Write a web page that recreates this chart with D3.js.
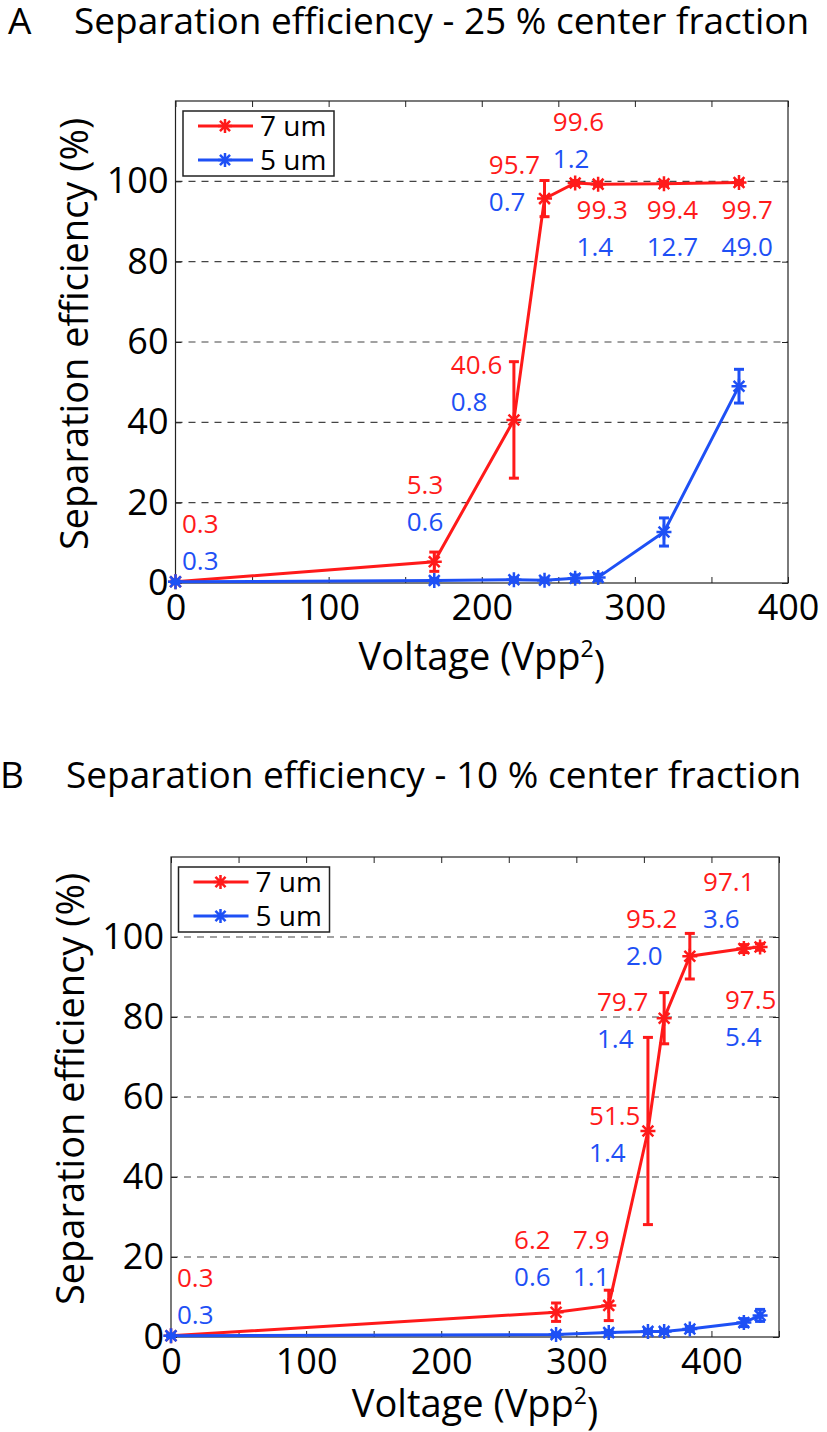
<!DOCTYPE html>
<html>
<head>
<meta charset="utf-8">
<script src="https://cdn.jsdelivr.net/npm/d3@7"></script>
<style>
  body { margin: 0; background: #fff; }
  text { font-family: "Open Sans", sans-serif; fill: #000; }
</style>
</head>
<body>
<div id="chart"></div>
<script>
// Panel A: 25 % center fraction
const voltageA = [0, 169, 221, 241, 261, 276, 319, 368];
const effA7 = [0.3, 5.3, 40.6, 95.7, 99.6, 99.3, 99.4, 99.7];
const errA7 = [0.2, 2.4, 14.5, 4.5, 0.6, 0.5, 0.6, 0.5];
const effA5 = [0.3, 0.6, 0.8, 0.7, 1.2, 1.4, 12.7, 49.0];
const errA5 = [0.2, 0.5, 0.5, 0.5, 0.8, 0.8, 3.5, 4.2];
// where the value labels sit (voltage, %), red label; blue one goes right under it
const labelXA = [4.2, 151, 179.8, 204.6, 246.4, 261.9, 307.7, 356.6];
const labelYA = [14.9, 24.4, 54.3, 104.1, 114.8, 92.9, 92.9, 92.9];

// Panel B: 10 % center fraction
const voltageB = [0, 285, 324, 353, 365, 384, 424, 436];
const effB7 = [0.3, 6.2, 7.9, 51.5, 79.7, 95.2, 97.1, 97.5];
const errB7 = [0.2, 2.3, 3.8, 23.4, 6.4, 5.7, 1.0, 0.8];
const effB5 = [0.3, 0.6, 1.1, 1.4, 1.4, 2.0, 3.6, 5.4];
const errB5 = [0.2, 0.4, 0.5, 0.5, 0.5, 0.6, 1.0, 1.5];
const labelXB = [4.4, 253.9, 297.5, 309.4, 315.3, 336.8, 393.8, 410];
const labelYB = [14.75, 24.25, 24.25, 55.25, 83.75, 104.5, 113.75, 84.25];

const seriesNames = ["7 um", "5 um"];
const yTicks = [0, 20, 40, 60, 80, 100];

const RED = "#ff1a1a";
const BLUE = "#1e50f5";

const svg = d3
  .select("#chart")
  .append("svg")
  .attr("width", 827)
  .attr("height", 1432);

const panels = [
  {
    letter: "A",
    title: "Separation efficiency - 25 % center fraction",
    titleY: 34,
    letterX: 8,
    titleX: 74,
    box: { left: 175.5, right: 788, top: 101, bottom: 583 },
    xMax: 400,
    voltage: voltageA,
    series: [
      { values: effA7, errors: errA7, color: RED },
      { values: effA5, errors: errA5, color: BLUE },
    ],
    labelX: labelXA,
    labelY: labelYA,
    yLabelX: 88,
    xLabelDy: 87,
  },
  {
    letter: "B",
    title: "Separation efficiency - 10 % center fraction",
    titleY: 788,
    letterX: 0,
    titleX: 66,
    box: { left: 171, right: 779, top: 857, bottom: 1337 },
    xMax: 450,
    voltage: voltageB,
    series: [
      { values: effB7, errors: errB7, color: RED },
      { values: effB5, errors: errB5, color: BLUE },
    ],
    labelX: labelXB,
    labelY: labelYB,
    yLabelX: 84,
    xLabelDy: 80,
  },
];

// MATLAB style '*' marker
function starPath(r) {
  const d = r * 0.72;
  return `M0,${-r}V${r}M${-r},0H${r}M${-d},${-d}L${d},${d}M${-d},${d}L${d},${-d}`;
}

function drawPanel(p) {
  const x = d3.scaleLinear().domain([0, p.xMax]).range([p.box.left, p.box.right]);
  const y = d3.scaleLinear().domain([0, 120]).range([p.box.bottom, p.box.top]);
  const g = svg.append("g");

  // Titles
  g.append("text")
    .attr("x", p.letterX)
    .attr("y", p.titleY)
    .style("font-size", "37px")
    .text(p.letter);
  g.append("text")
    .attr("x", p.titleX)
    .attr("y", p.titleY)
    .style("font-size", "37px")
    .text(p.title);

  // Dashed grid
  g.append("g")
    .selectAll("line")
    .data(yTicks.filter((d) => d > 0))
    .join("line")
    .attr("x1", p.box.left)
    .attr("x2", p.box.right)
    .attr("y1", (d) => y(d))
    .attr("y2", (d) => y(d))
    .attr("stroke", "#444")
    .attr("stroke-width", 1.2)
    .attr("stroke-dasharray", "7,6");

  // Axes, ticks pointing inward
  const xTicks = d3.range(0, p.xMax + 1, 50);
  const xBottom = g
    .append("g")
    .attr("transform", `translate(0,${p.box.bottom})`)
    .call(
      d3.axisBottom(x)
        .tickValues(xTicks)
        .tickFormat((d) => (d % 100 === 0 ? d : ""))
        .tickSize(-6)
        .tickPadding(11)
    );
  const xTop = g
    .append("g")
    .attr("transform", `translate(0,${p.box.top})`)
    .call(d3.axisTop(x).tickValues(xTicks).tickFormat("").tickSize(-6));
  const yLeft = g
    .append("g")
    .attr("transform", `translate(${p.box.left},0)`)
    .call(d3.axisLeft(y).tickValues(yTicks).tickSize(-6).tickPadding(7));
  const yRight = g
    .append("g")
    .attr("transform", `translate(${p.box.right},0)`)
    .call(d3.axisRight(y).tickValues(yTicks).tickFormat("").tickSize(-6));

  [xBottom, xTop, yLeft, yRight].forEach((a) => {
    a.select(".domain").remove();
    a.selectAll(".tick line").attr("stroke", "#222");
    a.selectAll("text")
      .style("font-size", "36px")
      .style("font-family", '"Open Sans", sans-serif')
      .attr("fill", "#000");
  });

  g.append("rect")
    .attr("x", p.box.left)
    .attr("y", p.box.top)
    .attr("width", p.box.right - p.box.left)
    .attr("height", p.box.bottom - p.box.top)
    .attr("fill", "none")
    .attr("stroke", "#222")
    .attr("stroke-width", 1.2);

  // Axis labels
  const xLabel = g
    .append("text")
    .attr("x", (p.box.left + p.box.right) / 2)
    .attr("y", p.box.bottom + p.xLabelDy)
    .attr("text-anchor", "middle")
    .style("font-size", "38px");
  xLabel.append("tspan").text("Voltage (Vpp");
  xLabel.append("tspan").attr("dy", "-0.55em").style("font-size", "23px").text("2");
  xLabel.append("tspan").attr("dy", "0.55em").text(")");

  g.append("text")
    .attr("transform", `translate(${p.yLabelX},${(p.box.top + p.box.bottom) / 2 - 8}) rotate(-90)`)
    .attr("text-anchor", "middle")
    .style("font-size", "38px")
    .text("Separation efficiency (%)");

  // Series: line, error bars, markers
  const line = d3
    .line()
    .x((d, i) => x(p.voltage[i]))
    .y((d) => y(d));

  p.series.forEach((s) => {
    const sg = g.append("g");
    sg.append("path")
      .attr("d", line(s.values))
      .attr("fill", "none")
      .attr("stroke", s.color)
      .attr("stroke-width", 3);

    const bars = sg
      .selectAll(".err")
      .data(s.values)
      .join("g")
      .attr("class", "err")
      .attr("stroke", s.color)
      .attr("stroke-width", 3);
    bars.append("line")
      .attr("x1", (d, i) => x(p.voltage[i]))
      .attr("x2", (d, i) => x(p.voltage[i]))
      .attr("y1", (d, i) => y(d - s.errors[i]))
      .attr("y2", (d, i) => y(d + s.errors[i]));
    [-1, 1].forEach((sign) => {
      bars.append("line")
        .attr("x1", (d, i) => x(p.voltage[i]) - 5)
        .attr("x2", (d, i) => x(p.voltage[i]) + 5)
        .attr("y1", (d, i) => y(d + sign * s.errors[i]))
        .attr("y2", (d, i) => y(d + sign * s.errors[i]));
    });

    sg.selectAll(".mark")
      .data(s.values)
      .join("path")
      .attr("class", "mark")
      .attr("transform", (d, i) => `translate(${x(p.voltage[i])},${y(d)})`)
      .attr("d", starPath(7.5))
      .attr("fill", "none")
      .attr("stroke", s.color)
      .attr("stroke-width", 2.5);
  });

  // Value labels
  const labels = g
    .append("g")
    .selectAll("g")
    .data(p.labelX)
    .join("g")
    .attr("transform", (d, i) => `translate(${x(d)},${y(p.labelY[i])})`);
  labels.append("text")
    .attr("dy", "0.36em")
    .style("font-size", "26px")
    .style("fill", RED)
    .text((d, i) => p.series[0].values[i].toFixed(1));
  labels.append("text")
    .attr("y", 37)
    .attr("dy", "0.36em")
    .style("font-size", "26px")
    .style("fill", BLUE)
    .text((d, i) => p.series[1].values[i].toFixed(1));

  // Legend
  const lx = p.box.left + 7.5;
  const ly = p.box.top + 10;
  const legend = g.append("g").attr("transform", `translate(${lx},${ly})`);
  legend.append("rect")
    .attr("width", 151)
    .attr("height", 65)
    .attr("fill", "#fff")
    .attr("stroke", "#222")
    .attr("stroke-width", 1.5);
  const items = legend
    .selectAll(".item")
    .data(p.series)
    .join("g")
    .attr("class", "item")
    .attr("transform", (d, i) => `translate(0,${15 + i * 34})`);
  items.append("line")
    .attr("x1", 15)
    .attr("x2", 70)
    .attr("stroke", (d) => d.color)
    .attr("stroke-width", 3);
  items.append("path")
    .attr("transform", "translate(42,0)")
    .attr("d", starPath(7))
    .attr("fill", "none")
    .attr("stroke", (d) => d.color)
    .attr("stroke-width", 2.5);
  items.append("text")
    .attr("x", 77)
    .attr("dy", "0.36em")
    .style("font-size", "28px")
    .text((d, i) => seriesNames[i]);
}

panels.forEach(drawPanel);
</script>
</body>
</html>
